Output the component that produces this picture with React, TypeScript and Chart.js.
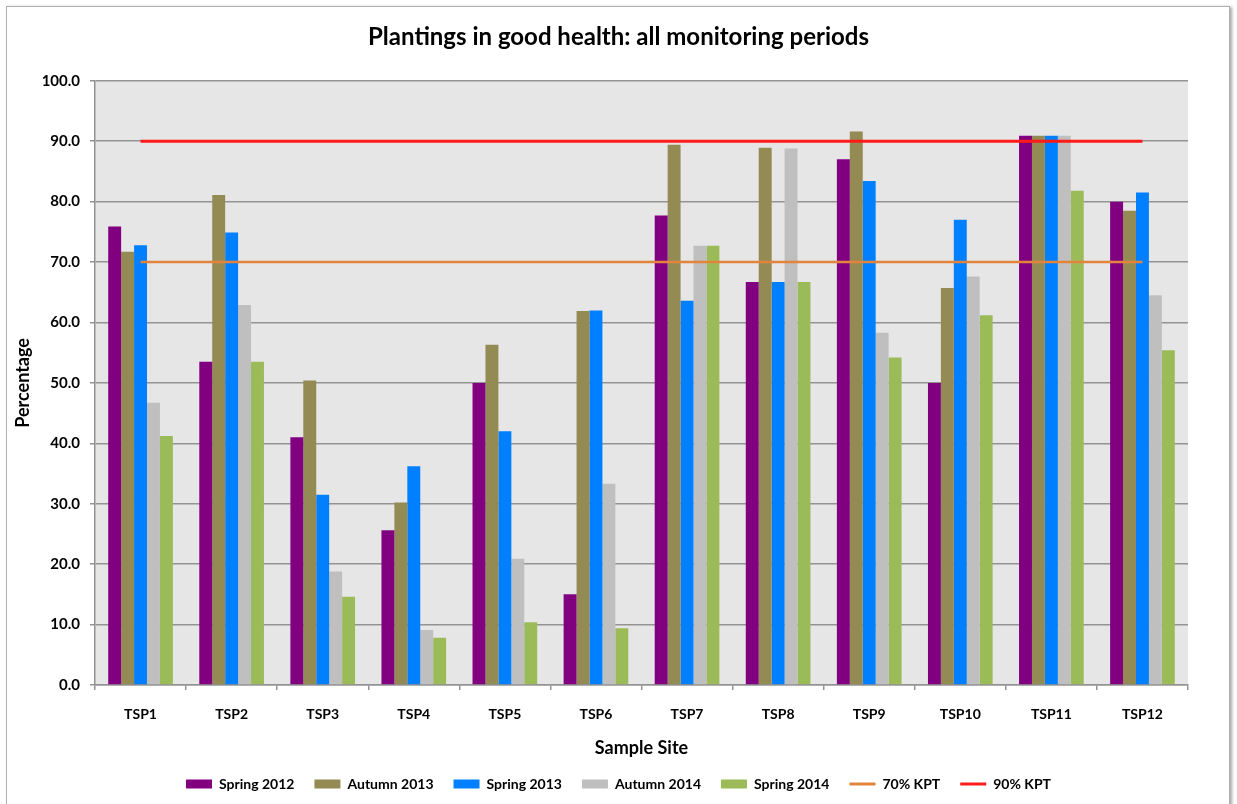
import React, { useEffect, useRef } from "react";
import { Chart, registerables } from "chart.js";

Chart.register(...registerables);

const categories = ["TSP1", "TSP2", "TSP3", "TSP4", "TSP5", "TSP6", "TSP7", "TSP8", "TSP9", "TSP10", "TSP11", "TSP12"];
const spring2012 = [75.9, 53.5, 41.0, 25.6, 50.0, 15.0, 77.7, 66.7, 87.0, 50.0, 90.9, 80.0];
const autumn2013 = [71.7, 81.1, 50.4, 30.2, 56.3, 61.9, 89.4, 88.9, 91.6, 65.7, 90.9, 78.5];
const spring2013 = [72.8, 74.9, 31.5, 36.2, 42.0, 62.0, 63.6, 66.7, 83.4, 77.0, 90.9, 81.5];
const autumn2014 = [46.7, 62.9, 18.8, 9.1, 20.9, 33.3, 72.7, 88.8, 58.3, 67.6, 90.9, 64.5];
const spring2014 = [41.2, 53.5, 14.6, 7.8, 10.4, 9.4, 72.7, 66.7, 54.2, 61.2, 81.8, 55.4];
const kpt70 = [70, 70, 70, 70, 70, 70, 70, 70, 70, 70, 70, 70];
const kpt90 = [90, 90, 90, 90, 90, 90, 90, 90, 90, 90, 90, 90];

const FONT = "Lato, 'Noto Sans', sans-serif";

const plotBg = {
  id: "plotBg",
  beforeDraw(chart: any) {
    const { ctx, chartArea } = chart;
    if (!chartArea) return;
    ctx.save();
    ctx.fillStyle = "#e6e6e6";
    ctx.fillRect(chartArea.left, chartArea.top, chartArea.right - chartArea.left, chartArea.bottom - chartArea.top);
    ctx.restore();
  },
};

export default function App() {
  const ref = useRef<HTMLCanvasElement | null>(null);

  useEffect(() => {
    if (!ref.current) return;
    const barDs = (label: string, data: number[], color: string) => ({
      type: "bar" as const,
      label,
      data,
      backgroundColor: color,
      borderWidth: 0,
      categoryPercentage: 0.71,
      barPercentage: 1.0,
      order: 2,
    });
    const lineDs = (label: string, data: number[], color: string, width: number) => ({
      type: "line" as const,
      label,
      data,
      borderColor: color,
      backgroundColor: color,
      borderWidth: width,
      pointRadius: 0,
      fill: false,
      order: 1,
    });
    const chart = new Chart(ref.current, {
      type: "bar",
      data: {
        labels: categories,
        datasets: [
          barDs("Spring 2012", spring2012, "#800080"),
          barDs("Autumn 2013", autumn2013, "#948a54"),
          barDs("Spring 2013", spring2013, "#0080ff"),
          barDs("Autumn 2014", autumn2014, "#bfbfbf"),
          barDs("Spring 2014", spring2014, "#9bbb59"),
          lineDs("70% KPT", kpt70, "#e3843c", 2.5),
          lineDs("90% KPT", kpt90, "#ff1a1a", 3),
        ] as any,
      },
      plugins: [plotBg],
      options: {
        animation: false,
        responsive: false,
        devicePixelRatio: 1,
        layout: { padding: { left: 0, right: 0, top: 0, bottom: 3 } },
        plugins: {
          title: {
            display: true,
            text: "Plantings in good health: all monitoring periods",
            color: "#000",
            font: { family: FONT, size: 24, weight: "bold" },
            padding: { top: 23, bottom: 29 },
          },
          legend: {
            position: "bottom",
            labels: {
              color: "#000",
              font: { family: FONT, size: 14, weight: "bold" },
              usePointStyle: true,
              pointStyleWidth: 26,
              boxHeight: 9,
              padding: 20,
              generateLabels: (c: any) =>
                c.data.datasets.map((ds: any, i: number) => ({
                  text: ds.label,
                  datasetIndex: i,
                  hidden: false,
                  fontColor: "#000",
                  fillStyle: ds.type === "line" ? ds.borderColor : ds.backgroundColor,
                  strokeStyle: ds.type === "line" ? ds.borderColor : ds.backgroundColor,
                  lineWidth: ds.type === "line" ? 3 : 0,
                  pointStyle: ds.type === "line" ? "line" : "rect",
                })),
            },
          },
          tooltip: { enabled: false },
        },
        scales: {
          x: {
            offset: true,
            grid: {
              offset: true,
              drawOnChartArea: false,
              drawTicks: true,
              tickLength: 5,
              color: "#939393",
              lineWidth: 1.5,
            },
            border: { color: "#939393", width: 1.5 },
            ticks: {
              color: "#000",
              padding: 16,
              font: { family: FONT, size: 14, weight: "bold" },
              maxRotation: 0,
            },
            title: {
              display: true,
              text: "Sample Site",
              color: "#000",
              font: { family: FONT, size: 18, weight: "bold", lineHeight: 1.0 },
              padding: { top: 0, bottom: 0 },
            },
            afterFit: (s: any) => {
              s.height = 72;
            },
          },
          y: {
            min: 0,
            max: 100,
            grid: {
              color: "#939393",
              lineWidth: 1.5,
              tickLength: 5,
            },
            border: { color: "#939393", width: 1.5 },
            ticks: {
              stepSize: 10,
              color: "#000",
              padding: 10,
              font: { family: FONT, size: 15, weight: "bold" },
              callback: (v: any) => Number(v).toFixed(1),
            },
            title: {
              display: true,
              text: "Percentage",
              color: "#000",
              font: { family: FONT, size: 18, weight: "bold" },
              padding: { top: 12, bottom: 0 },
            },
            afterFit: (s: any) => {
              s.width = 95;
            },
          },
          yRight: {
            position: "right",
            display: true,
            grid: { display: false, drawOnChartArea: false },
            border: { display: false },
            ticks: { display: false },
            afterFit: (s: any) => {
              s.width = 49;
            },
          },
        },
      } as any,
    });
    return () => chart.destroy();
  }, []);

  return (
    <div style={{ position: "fixed", left: 0, top: 0, width: 1237, height: 804, overflow: "hidden", background: "#fff" }}>
      <div
        style={{
          position: "absolute",
          left: 6,
          top: 6,
          width: 1222,
          height: 830,
          border: "1px solid #b0b0b0",
          boxShadow: "2px 1px 3px rgba(0,0,0,0.35)",
        }}
      />
      <canvas ref={ref} width={1237} height={804} style={{ position: "absolute", left: 0, top: 0, width: 1237, height: 804 }} />
    </div>
  );
}
